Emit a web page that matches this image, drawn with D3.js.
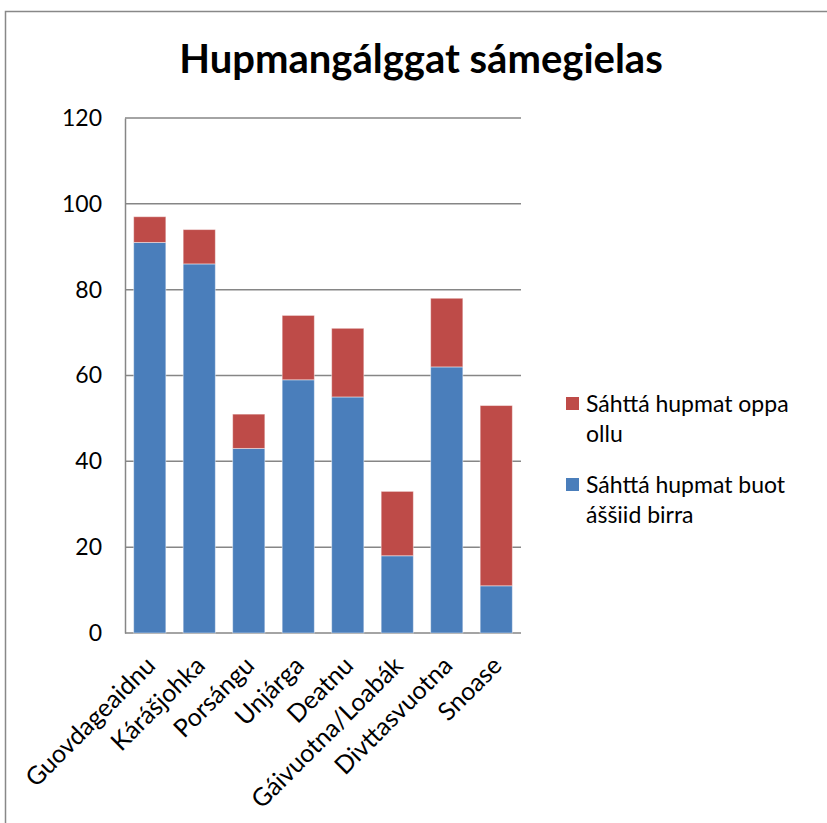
<!DOCTYPE html>
<html>
<head>
<meta charset="utf-8">
<script src="https://cdn.jsdelivr.net/npm/d3@7"></script>
<style>
  body { margin: 0; background: #fff; }
  text { font-family: Lato, "Open Sans", sans-serif; fill: #000; }
</style>
</head>
<body>
<div id="chart"></div>
<script>
// data
var places = ["Guovdageaidnu", "Kárášjohka", "Porsángu", "Unjárga", "Deatnu", "Gáivuotna/Loabák", "Divttasvuotna", "Snoase"];
var allAge = [91, 86, 43, 59, 55, 18, 62, 11];      // Sáhttá hupmat buot áššiid birra
var aLot = [6, 8, 8, 15, 16, 15, 16, 42];           // Sáhttá hupmat oppa ollu
var yTicks = [0, 20, 40, 60, 80, 100, 120];
var colors = ["#4a7ebb", "#be4b48"];

var svgWidth = 827, svgHeight = 823;
var margin = { top: 118, left: 125 };
var width = 396, height = 515;

var svg = d3.select("#chart").append("svg")
  .attr("width", svgWidth)
  .attr("height", svgHeight);

// outer chart border
svg.append("rect")
  .attr("x", 5.5).attr("y", 11.5)
  .attr("width", 840).attr("height", 840)
  .attr("fill", "none")
  .attr("stroke", "#888")
  .attr("stroke-width", 1.5);

svg.append("text")
  .attr("x", 421).attr("y", 73)
  .attr("text-anchor", "middle")
  .style("font-size", "40px")
  .style("font-weight", "bold")
  .text("Hupmangálggat sámegielas");

var chartGroup = svg.append("g")
  .attr("transform", `translate(${margin.left}, ${margin.top})`);

var xScale = d3.scaleBand()
  .domain(places)
  .range([0, width])
  .paddingInner(0.35)
  .paddingOuter(0.175);

var yScale = d3.scaleLinear()
  .domain([0, 120])
  .range([height, 0]);

// gridlines
chartGroup.append("g")
  .selectAll("line")
  .data(yTicks)
  .enter()
  .append("line")
  .attr("x1", 0).attr("x2", width)
  .attr("y1", d => yScale(d)).attr("y2", d => yScale(d))
  .attr("stroke", "#868686")
  .attr("stroke-width", 1.5);

// stacked bars
var rows = places.map((p, i) => ({ place: p, base: allAge[i], top: aLot[i] }));
var stack = d3.stack().keys(["base", "top"])(rows);

chartGroup.selectAll("g.series")
  .data(stack)
  .enter()
  .append("g")
  .attr("class", "series")
  .attr("fill", (d, i) => colors[i])
  .selectAll("rect")
  .data(d => d)
  .enter()
  .append("rect")
  .attr("x", d => xScale(d.data.place))
  .attr("y", d => yScale(d[1]))
  .attr("width", xScale.bandwidth())
  .attr("height", d => yScale(d[0]) - yScale(d[1]))
  .attr("stroke", "rgba(255,255,255,0.45)")
  .attr("stroke-width", 1);

// y axis
var yAxis = d3.axisLeft(yScale).tickValues(yTicks).tickSize(0).tickPadding(23);
var yG = chartGroup.append("g").call(yAxis);
yG.select(".domain").attr("stroke", "#868686").attr("stroke-width", 1.5);
yG.selectAll("text").style("font-size", "23px").style("font-family", "Lato, sans-serif");

// x axis
var xAxis = d3.axisBottom(xScale).tickSize(0).tickPadding(0);
var xG = chartGroup.append("g")
  .attr("transform", `translate(0, ${height})`)
  .call(xAxis);
xG.select(".domain").remove();
xG.selectAll("text")
  .style("font-size", "25px")
  .style("font-family", "Lato, sans-serif")
  .attr("text-anchor", "end")
  .attr("dy", "0.35em")
  .attr("transform", "translate(1, 28) rotate(-45)");

// legend
var legendItems = [
  { color: colors[1], lines: ["Sáhttá hupmat oppa", "ollu"], y: 397 },
  { color: colors[0], lines: ["Sáhttá hupmat buot", "áššiid birra"], y: 478 }
];
var legend = svg.selectAll("g.legend")
  .data(legendItems)
  .enter()
  .append("g")
  .attr("class", "legend");
legend.append("rect")
  .attr("x", 566).attr("y", d => d.y)
  .attr("width", 13).attr("height", 13)
  .attr("fill", d => d.color);
legend.append("text")
  .attr("x", 586).attr("y", d => d.y + 15)
  .style("font-size", "23px")
  .selectAll("tspan")
  .data(d => d.lines)
  .enter()
  .append("tspan")
  .attr("x", 586)
  .attr("dy", (d, i) => i === 0 ? 0 : 30)
  .text(d => d);
</script>
</body>
</html>
